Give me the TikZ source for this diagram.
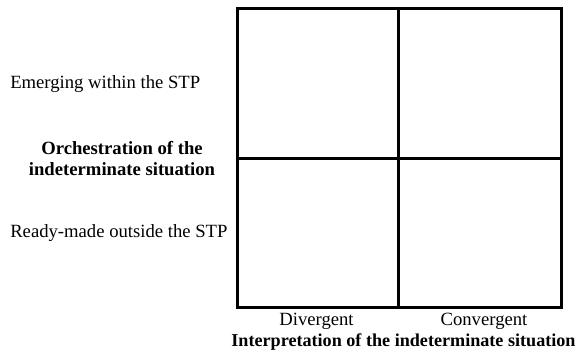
\documentclass[tikz,border=0pt]{standalone}
\usepackage{fontspec}
\setmainfont{Liberation Serif}
\usetikzlibrary{positioning}

\begin{document}
\begin{tikzpicture}[x=0.75pt, y=-0.75pt,
  lab/.style={font=\fontsize{14}{16}\selectfont, text=black, inner sep=0pt},
  head/.style={lab, font=\fontsize{14}{15.75}\selectfont\bfseries, align=center},
  grid/.style={line width=2.25pt, draw=black}]
  \useasboundingbox (0,0) rectangle (577,352);
  % the 2x2 matrix
  \coordinate (nw) at (237,9);
  \coordinate (se) at (561,307);
  \coordinate (tm) at (398,9);
  \coordinate (bm) at (398,307);
  \coordinate (lm) at (237,159);
  \coordinate (rm) at (561,159);
  \draw[grid] (nw) rectangle (se);
  \draw[grid] (tm) -- (bm);
  \draw[grid] (lm) -- (rm);
  % row labels
  \node[lab, anchor=west] (r1) at (10,84)  {Emerging within the STP};
  \node[lab, anchor=west] (r2) at (10,233) {Ready-made outside the STP};
  \node[head] (rt) at (122,159) {Orchestration of the\\indeterminate situation};
  % column labels
  \node[lab] (c1) at (316.5,321) {Divergent};
  \node[lab] (c2) at (484,321) {Convergent};
  \node[head, font=\fontsize{13.6}{15}\selectfont\bfseries] (ct) at (403.5,342) {Interpretation of the indeterminate situation};
\end{tikzpicture}
\end{document}
